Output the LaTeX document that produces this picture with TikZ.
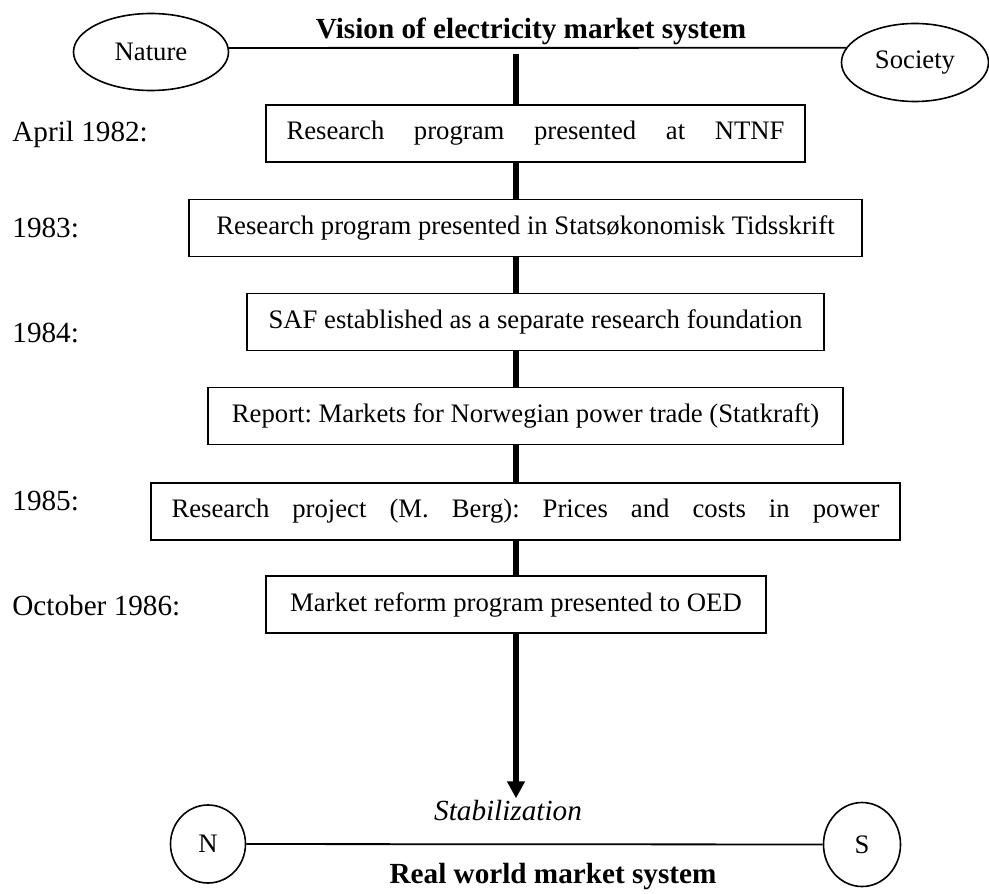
\documentclass[tikz,border=0pt]{standalone}
\usepackage{fontspec}
\setmainfont{Liberation Serif}
\usetikzlibrary{shapes.geometric, arrows.meta, positioning, calc}

\newcommand{\boxfont}{\fontsize{13.35}{16}\selectfont}
\newcommand{\labfont}{\fontsize{14.6}{17.5}\selectfont}

\begin{document}
\frenchspacing
\begin{tikzpicture}[x=0.5pt, y=-0.5pt,
  stagebox/.style={draw, line width=0.8pt, minimum height=28.5pt, inner sep=0pt, font=\boxfont},
  yearlabel/.style={anchor=west, inner sep=0pt, font=\labfont},
  pole/.style={draw, ellipse, line width=0.8pt, inner sep=0pt, font=\boxfont},
  spineline/.style={line width=2.6pt},
  axisline/.style={line width=0.9pt}]
  \useasboundingbox (0,0) rectangle (989,893);

  % vision on top
  \node[pole, minimum width=77.5pt, minimum height=38.5pt] (nature) at (151,52) {Nature};
  \node[pole, minimum width=73.5pt, minimum height=39pt] (society) at (915,62.5) {Society};
  \node[font=\labfont\bfseries, anchor=base] (vision) at (531,39) {Vision of electricity market system};
  \draw[axisline] (nature.3) -- (society.168);

  % steps
  \node[stagebox, minimum width=269.5pt] (b1) at (535.5,133.5) {\makebox[249pt][s]{Research program presented at NTNF}};
  \node[stagebox, minimum width=336.5pt] (b2) at (525.5,228) {Research program presented in Statsøkonomisk Tidsskrift};
  \node[stagebox, minimum width=288.5pt] (b3) at (535.5,322) {SAF established as a separate research foundation};
  \node[stagebox, minimum width=317.5pt] (b4) at (525.5,416) {Report: Markets for Norwegian power trade (Statkraft)};
  \node[stagebox, minimum width=374.5pt] (b5) at (525.5,511.5) {\makebox[354pt][s]{Research project (M. Berg): Prices and costs in power}};
  \node[stagebox, minimum width=250pt] (b6) at (516,604.5) {Market reform program presented to OED};

  % dates
  \node[yearlabel] (y1) at (12,134) {April 1982:};
  \node[yearlabel] (y2) at (12,228) {1983:};
  \node[yearlabel] (y3) at (12,333) {1984:};
  \node[yearlabel] (y5) at (12,501) {1985:};
  \node[yearlabel] (y6) at (12,606) {October 1986:};

  % real world at the bottom
  \node[font=\labfont\itshape, inner sep=1pt] (stab) at (508,811) {Stabilization};
  \node[pole, minimum width=37.5pt, minimum height=39pt] (n) at (208,844) {N};
  \node[pole, minimum width=38.5pt, minimum height=42pt] (s) at (862,844.5) {S};
  \draw[axisline] (n) -- (s);
  \node[font=\labfont\bfseries] (real) at (553,877) {Real world market system};

  % spine
  \coordinate (spine) at (516,54);
  \draw[spineline] (spine) -- (spine |- b1.north);
  \foreach \a/\b in {b1/b2, b2/b3, b3/b4, b4/b5, b5/b6}
    \draw[spineline] (spine |- \a.south) -- (spine |- \b.north);
  \draw[spineline, -{Triangle[length=8.5pt, width=8.5pt]}] (spine |- b6.south) -- (spine |- stab.north);
\end{tikzpicture}
\end{document}
